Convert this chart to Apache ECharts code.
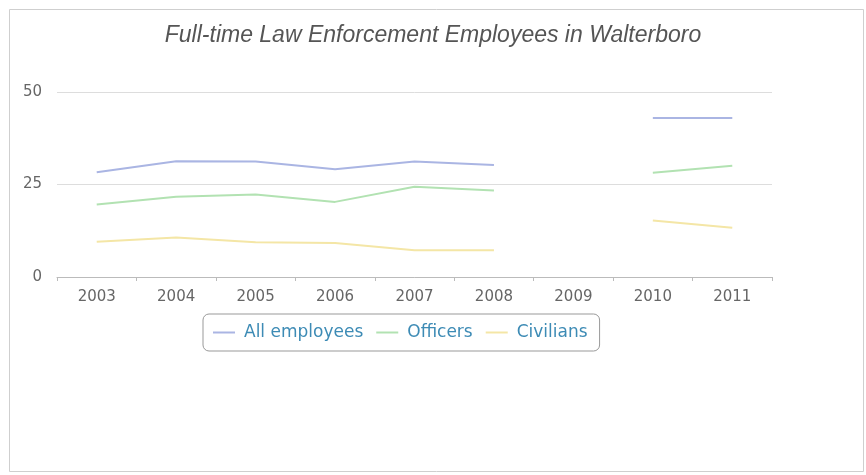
<!DOCTYPE html>
<html>
<head>
<meta charset="utf-8">
<script src="https://cdn.jsdelivr.net/npm/echarts@6/dist/echarts.min.js"></script>
<style>
html,body{margin:0;padding:0;background:#fff;}
#chart{width:866px;height:475px;}
</style>
</head>
<body>
<div id="chart"></div>
<script>
var categories = ['2003','2004','2005','2006','2007','2008','2009','2010','2011'];
var allEmployees = [28.3, 31.3, 31.2, 29.1, 31.2, 30.3, null, 43, 43];
var officers = [19.6, 21.7, 22.3, 20.3, 24.4, 23.4, null, 28.2, 30.1];
var civilians = [9.5, 10.7, 9.4, 9.2, 7.2, 7.2, null, 15.3, 13.3];
var yTicks = [0, 25, 50];

var chart = echarts.init(document.getElementById('chart'));
var font = 'DejaVu Sans';
function mkSeries(name, data, color) {
  return {
    name: name, type: 'line', data: data, connectNulls: false,
    showSymbol: false, symbol: 'none', smooth: false,
    lineStyle: { color: color, width: 2 },
    itemStyle: { color: color }
  };
}
chart.setOption({
  backgroundColor: '#ffffff',
  animation: false,
  title: {
    text: 'Full-time Law Enforcement Employees in Walterboro',
    left: 'center', top: 19,
    textStyle: { fontFamily: 'Liberation Sans', fontStyle: 'italic', fontWeight: 'normal', fontSize: 23, color: '#555555' }
  },
  graphic: [{
    type: 'rect', left: 7, top: 7, silent: true,
    shape: { width: 854, height: 462 },
    style: { fill: 'none', stroke: '#cfcfcf', lineWidth: 1 }
  }],
  legend: {
    left: 203, top: 314,
    padding: [10, 12, 10, 10],
    itemGap: 13,
    itemWidth: 22, itemHeight: 2,
    icon: 'rect',
    borderColor: '#999999', borderWidth: 1, borderRadius: 6,
    textStyle: { fontFamily: font, fontSize: 17, color: '#3d8bb5', padding: [0, 0, 0, 4] },
    data: ['All employees', 'Officers', 'Civilians']
  },
  grid: { left: 57, right: 94, top: 92, bottom: 198, containLabel: false },
  xAxis: {
    type: 'category', data: categories, boundaryGap: true,
    axisLine: { lineStyle: { color: '#bbbbbb' } },
    axisTick: { show: true, alignWithLabel: false, length: 4, lineStyle: { color: '#bbbbbb' } },
    axisLabel: { fontFamily: font, fontSize: 15, color: '#666666', margin: 13 }
  },
  yAxis: {
    type: 'value', min: yTicks[0], max: yTicks[yTicks.length - 1], interval: 25,
    axisLine: { show: false }, axisTick: { show: false },
    axisLabel: { fontFamily: font, fontSize: 15, color: '#666666', margin: 15 },
    splitLine: { lineStyle: { color: '#dddddd', width: 1 } }
  },
  series: [
    mkSeries('All employees', allEmployees, '#aab5e3'),
    mkSeries('Officers', officers, '#b2e2b2'),
    mkSeries('Civilians', civilians, '#f4e6a6')
  ]
});
</script>
</body>
</html>
